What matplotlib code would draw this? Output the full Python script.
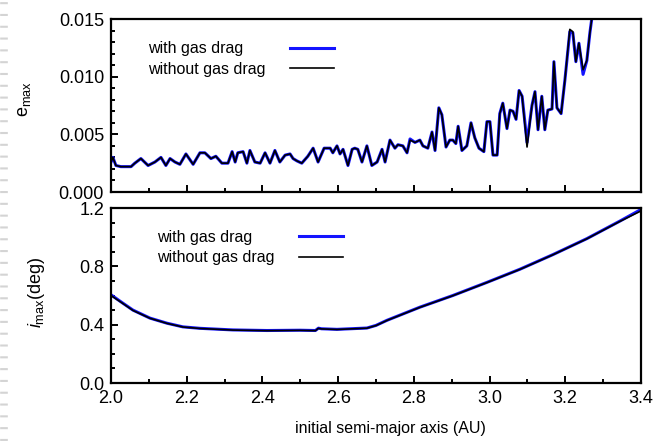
import matplotlib

matplotlib.use("Agg")
import matplotlib.pyplot as plt
from matplotlib.lines import Line2D
from matplotlib.ticker import MultipleLocator

# initial semi-major axis (AU) for the eccentricity panel
a_e = [2.000, 2.005, 2.013, 2.026, 2.053, 2.063, 2.079, 2.098, 2.116, 2.132,
       2.145, 2.156, 2.169, 2.182, 2.198, 2.217, 2.235, 2.248, 2.264, 2.277,
       2.293, 2.309, 2.320, 2.328, 2.335, 2.349, 2.359, 2.367, 2.380, 2.394,
       2.407, 2.420, 2.433, 2.446, 2.460, 2.473, 2.481, 2.491, 2.504, 2.520,
       2.534, 2.547, 2.563, 2.579, 2.586, 2.597, 2.605, 2.613, 2.626, 2.637,
       2.644, 2.652, 2.663, 2.676, 2.689, 2.703, 2.716, 2.724, 2.737, 2.750,
       2.758, 2.771, 2.782, 2.790, 2.803, 2.816, 2.824, 2.837, 2.848, 2.856,
       2.866, 2.874, 2.885, 2.895, 2.903, 2.911, 2.917, 2.927, 2.940, 2.951,
       2.961, 2.972, 2.985, 2.993, 3.001, 3.009, 3.020, 3.027, 3.035, 3.046,
       3.054, 3.062, 3.070, 3.078, 3.086, 3.099, 3.112, 3.120, 3.128, 3.138,
       3.146, 3.154, 3.165, 3.170, 3.178, 3.189, 3.199, 3.212, 3.220, 3.228,
       3.236, 3.247, 3.257, 3.265, 3.276]
e_with = [0.0026, 0.0030, 0.0023, 0.0022, 0.0022, 0.0025, 0.0029, 0.0023, 0.0026, 0.0030,
          0.0023, 0.0029, 0.0026, 0.0024, 0.0033, 0.0024, 0.0034, 0.0034, 0.0029, 0.0031,
          0.0025, 0.0025, 0.0035, 0.0026, 0.0034, 0.0035, 0.0025, 0.0036, 0.0026, 0.0025,
          0.0034, 0.0025, 0.0036, 0.0026, 0.0032, 0.0033, 0.0029, 0.0027, 0.0025, 0.0031,
          0.0038, 0.0026, 0.0038, 0.0038, 0.0034, 0.0040, 0.0033, 0.0037, 0.0023, 0.0037,
          0.0038, 0.0037, 0.0026, 0.0040, 0.0023, 0.0026, 0.0037, 0.0026, 0.0045, 0.0038,
          0.0041, 0.0040, 0.0034, 0.0046, 0.0043, 0.0045, 0.0040, 0.0038, 0.0052, 0.0036,
          0.0073, 0.0067, 0.0039, 0.0045, 0.0045, 0.0042, 0.0057, 0.0036, 0.0040, 0.0060,
          0.0047, 0.0038, 0.0035, 0.0061, 0.0061, 0.0032, 0.0032, 0.0068, 0.0077, 0.0055,
          0.0071, 0.0070, 0.0063, 0.0088, 0.0083, 0.0043, 0.0075, 0.0087, 0.0054, 0.0083,
          0.0054, 0.0071, 0.0072, 0.0113, 0.0073, 0.0068, 0.0097, 0.0139, 0.0138, 0.0113,
          0.0129, 0.0102, 0.0114, 0.0138, 0.0165]
e_without = [0.0026, 0.0030, 0.0023, 0.0022, 0.0022, 0.0025, 0.0029, 0.0023, 0.0026, 0.0030,
             0.0023, 0.0029, 0.0026, 0.0024, 0.0033, 0.0024, 0.0034, 0.0034, 0.0029, 0.0031,
             0.0025, 0.0025, 0.0035, 0.0026, 0.0034, 0.0035, 0.0025, 0.0036, 0.0026, 0.0025,
             0.0034, 0.0025, 0.0036, 0.0026, 0.0032, 0.0033, 0.0029, 0.0027, 0.0025, 0.0031,
             0.0038, 0.0026, 0.0038, 0.0038, 0.0034, 0.0040, 0.0033, 0.0037, 0.0023, 0.0037,
             0.0038, 0.0037, 0.0026, 0.0040, 0.0023, 0.0026, 0.0037, 0.0026, 0.0045, 0.0038,
             0.0041, 0.0040, 0.0034, 0.0045, 0.0043, 0.0045, 0.0040, 0.0038, 0.0052, 0.0036,
             0.0073, 0.0067, 0.0039, 0.0045, 0.0045, 0.0042, 0.0057, 0.0036, 0.0040, 0.0060,
             0.0047, 0.0038, 0.0035, 0.0061, 0.0061, 0.0032, 0.0032, 0.0068, 0.0077, 0.0055,
             0.0071, 0.0070, 0.0063, 0.0088, 0.0083, 0.0039, 0.0075, 0.0087, 0.0054, 0.0083,
             0.0054, 0.0071, 0.0072, 0.0113, 0.0073, 0.0068, 0.0097, 0.0141, 0.0139, 0.0113,
             0.0129, 0.0106, 0.0114, 0.0138, 0.0165]

# initial semi-major axis (AU) for the inclination panel
a_i = [2.000, 2.030, 2.058, 2.103, 2.148, 2.190, 2.235, 2.322, 2.412, 2.499,
       2.540, 2.548, 2.556, 2.597, 2.676, 2.700, 2.729, 2.816, 2.903, 2.993,
       3.080, 3.167, 3.257, 3.344, 3.400]
i_with = [0.605, 0.550, 0.500, 0.445, 0.410, 0.385, 0.375, 0.364, 0.360, 0.362,
          0.360, 0.376, 0.372, 0.368, 0.377, 0.395, 0.430, 0.520, 0.600, 0.690,
          0.780, 0.880, 0.990, 1.110, 1.190]
i_without = [0.600, 0.548, 0.498, 0.444, 0.409, 0.384, 0.374, 0.363, 0.359, 0.361,
             0.359, 0.375, 0.371, 0.367, 0.376, 0.394, 0.429, 0.519, 0.599, 0.689,
             0.779, 0.879, 0.989, 1.108, 1.180]

LABEL_WITH = "with gas drag"
LABEL_WITHOUT = "without gas drag"
BLUE = "#1414ff"

plt.rcParams.update({
    "font.family": ["Liberation Sans", "DejaVu Sans"],
    "mathtext.fontset": "custom",
    "mathtext.rm": "Liberation Sans",
    "mathtext.it": "Liberation Sans:italic",
    "lines.scale_dashes": False,
    "axes.linewidth": 1.6,
})

fig = plt.figure(figsize=(6.54, 4.41), dpi=100)
ax1 = fig.add_axes([0.1697, 0.5646, 0.8104, 0.3923])
ax2 = fig.add_axes([0.1697, 0.1315, 0.8104, 0.3968], sharex=ax1)

ax1.plot(a_e, e_with, color=BLUE, lw=2.2, label=LABEL_WITH)
ax1.plot(a_e, e_without, color="black", lw=1.2, label=LABEL_WITHOUT)
ax2.plot(a_i, i_with, color=BLUE, lw=2.2, label=LABEL_WITH)
ax2.plot(a_i, i_without, color="black", lw=1.2, label=LABEL_WITHOUT)

ax1.set_ylim(0, 0.015)
ax1.yaxis.set_major_locator(MultipleLocator(0.005))
ax1.yaxis.set_minor_locator(MultipleLocator(0.001))
ax1.yaxis.set_major_formatter(lambda v, p: f"{v:.3f}")
ax2.set_ylim(0, 1.2)
ax2.yaxis.set_major_locator(MultipleLocator(0.4))
ax2.yaxis.set_minor_locator(MultipleLocator(0.1))
ax2.yaxis.set_major_formatter(lambda v, p: f"{v:.1f}")
ax2.set_xlim(2.0, 3.4)
ax2.xaxis.set_major_locator(MultipleLocator(0.2))
ax2.xaxis.set_minor_locator(MultipleLocator(0.1))
ax2.xaxis.set_major_formatter(lambda v, p: f"{v:.1f}")

for ax in (ax1, ax2):
    ax.tick_params(which="both", direction="in", top=False, right=False,
                   labelsize=13, pad=5, width=1.4)
    ax.tick_params(which="major", length=5)
    ax.tick_params(which="minor", length=3)
ax1.tick_params(labelbottom=False)

ax1.set_ylabel(r"e$_{\mathrm{max}}$", fontsize=13)
ax1.yaxis.set_label_coords(-0.147, 0.54)
ax2.set_ylabel(r"$i_{\mathrm{max}}$(deg)", fontsize=13)
ax2.yaxis.set_label_coords(-0.121, 0.52)
ax2.set_xlabel("initial semi-major axis (AU)", fontsize=11.5)
ax2.xaxis.set_label_coords(0.528, -0.215)

legends = []
for ax, (x, y) in ((ax1, (0.07, 0.87)), (ax2, (0.087, 0.875))):
    leg = ax.legend(loc="upper left", bbox_to_anchor=(x, y), markerfirst=False,
                    frameon=False, fontsize=11.5, handlelength=2.8,
                    handletextpad=1.5, labelspacing=0.35, borderpad=0,
                    borderaxespad=0)
    legends.append(leg)

# line up the label texts on the left while the keys stay on the right
fig.canvas.draw()
r = fig.canvas.get_renderer()
for leg in legends:
    ws = [t.get_window_extent(r).width for t in leg.get_texts()]
    rows = leg._legend_handle_box.get_children()[0].get_children()
    for row, w in zip(rows, ws):
        row.sep += (max(ws) - w) * 72.0 / fig.dpi

# binder-like dashed strip at the left edge
fig.add_artist(Line2D([0.006, 0.006], [0, 1], transform=fig.transFigure,
                      color="#d4d4d4", lw=5.5, linestyle=(0, (1.5, 7.0))))

fig.savefig("out.png", dpi=100)
